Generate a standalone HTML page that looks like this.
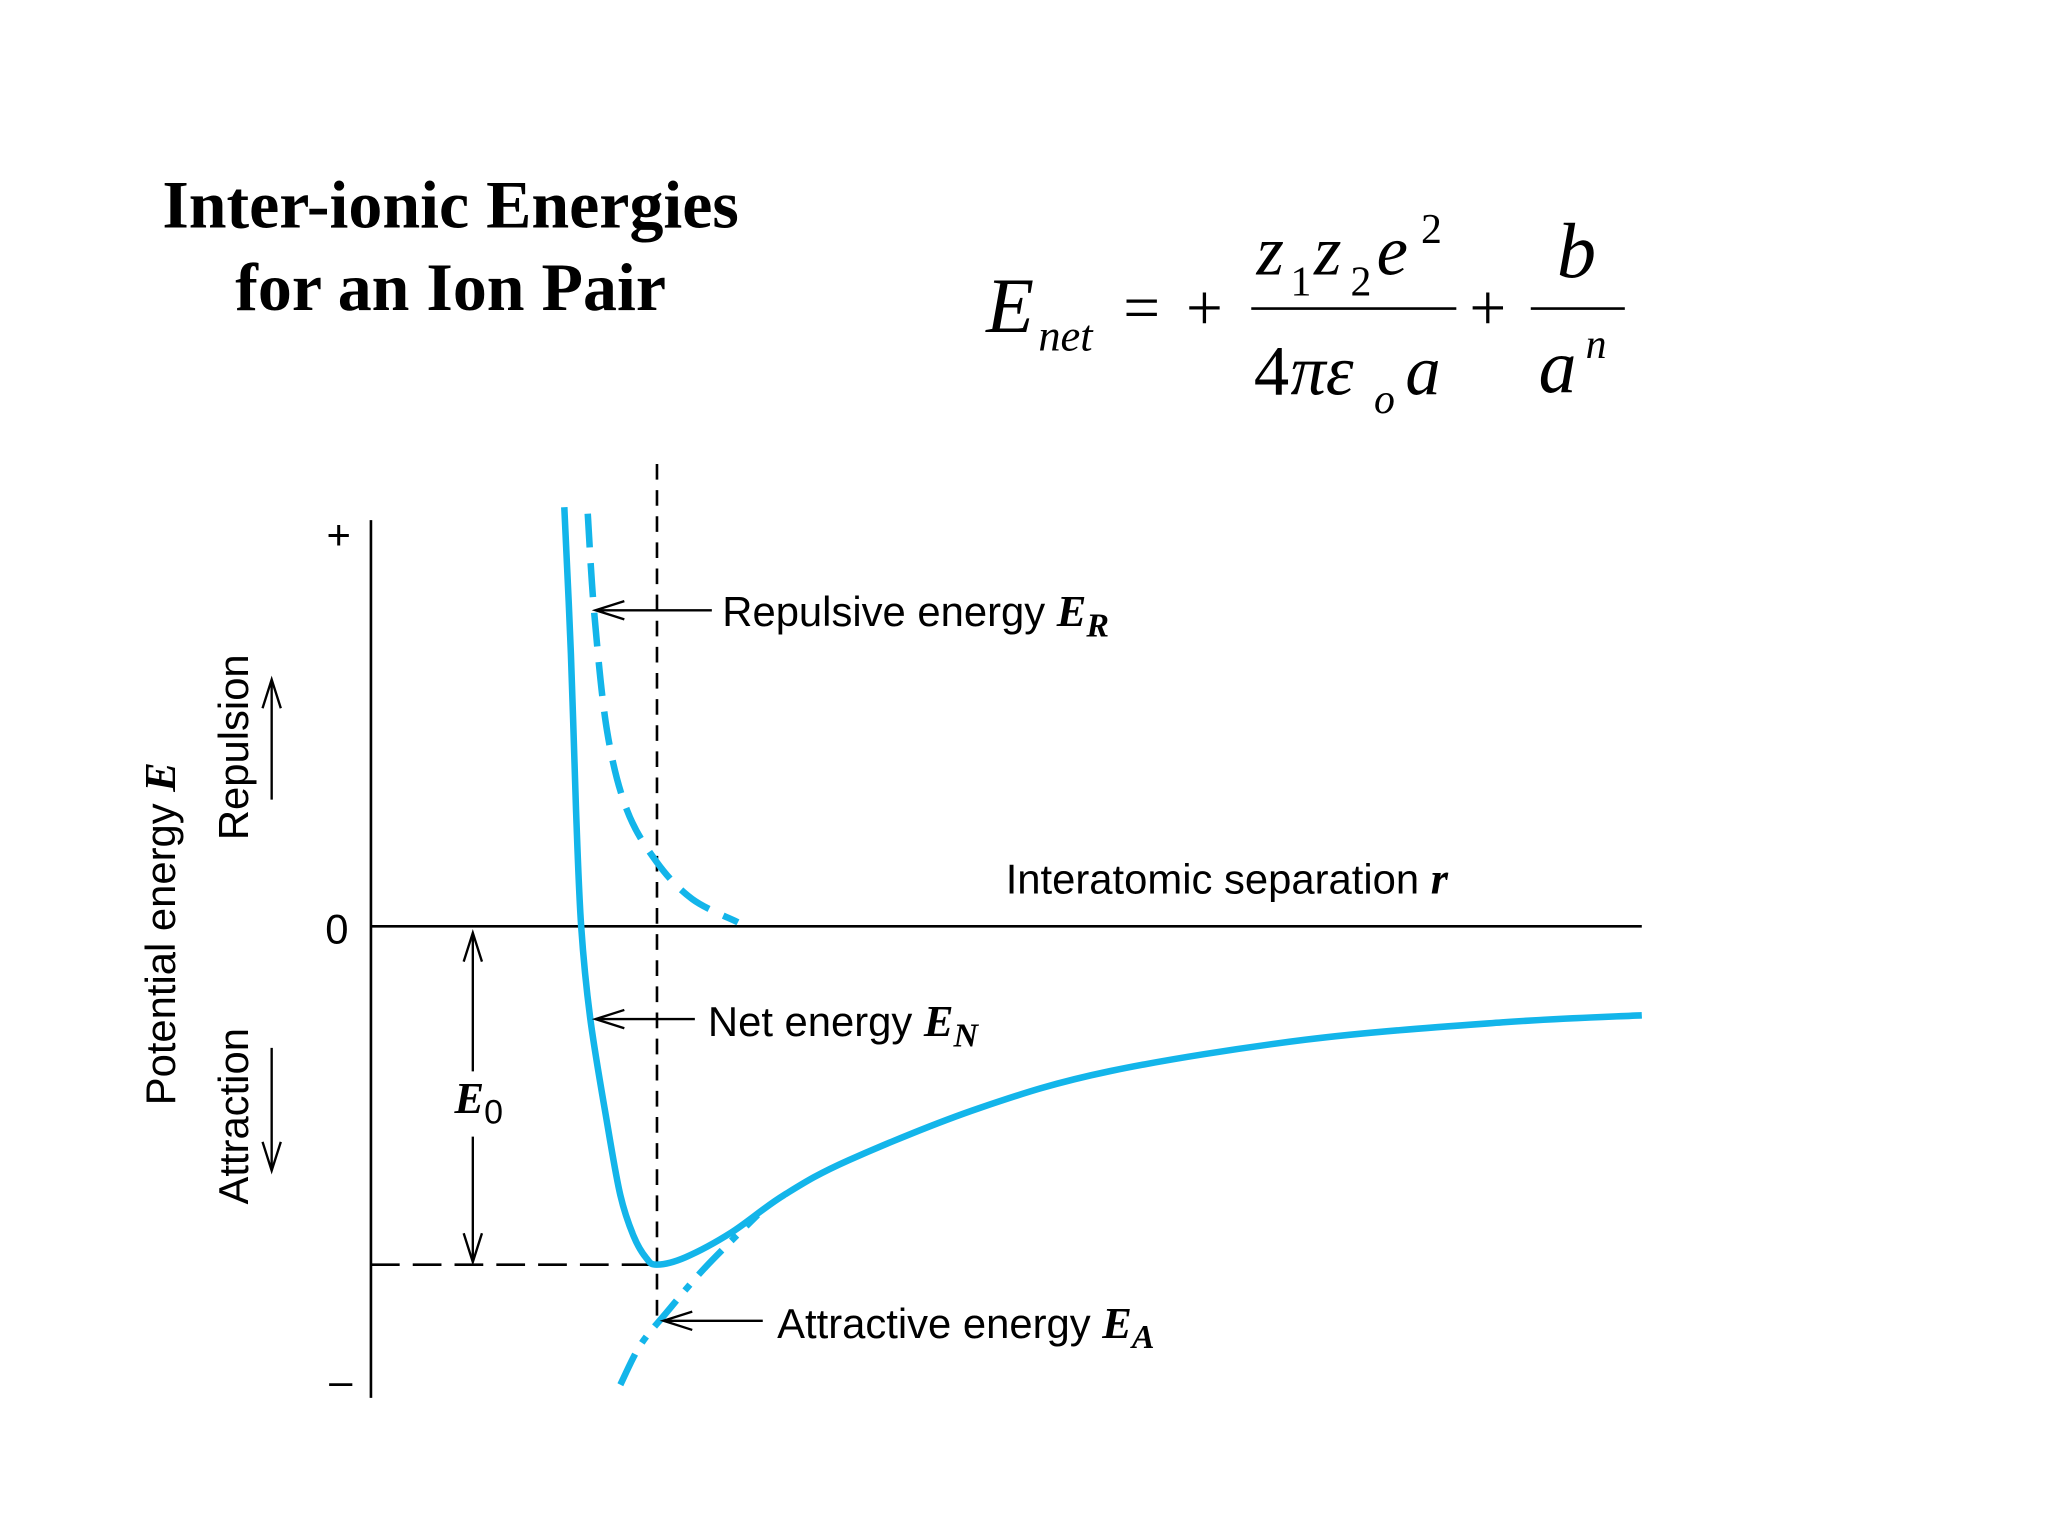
<!DOCTYPE html>
<html><head><meta charset="utf-8"><style>
html,body{margin:0;padding:0;background:#fff;}
svg{display:block;}
.sans{font-family:"Liberation Sans",sans-serif;}
.serif{font-family:"Liberation Serif",serif;}
</style></head><body>
<svg id="chart" width="2048" height="1534" viewBox="0 0 1568 1174" xmlns="http://www.w3.org/2000/svg">
<rect width="1568" height="1174" fill="#fff"/>
<g class="serif" font-weight="bold" font-size="52" text-anchor="middle" fill="#000">
<text x="345" y="174">Inter-ionic Energies</text>
<text x="345" y="237">for an Ion Pair</text>
</g>
<g class="serif" fill="#000">
<text x="755" y="254" font-size="60" font-style="italic">E</text>
<text x="795" y="268" font-size="34" font-style="italic">net</text>
<text x="860" y="252" font-size="50">=</text>
<text x="908" y="252" font-size="50">+</text>
<text x="962" y="210" font-size="54" font-style="italic">z</text>
<text x="988" y="226" font-size="32">1</text>
<text x="1006" y="210" font-size="54" font-style="italic">z</text>
<text x="1034" y="226" font-size="32">2</text>
<text x="1054" y="210" font-size="54" font-style="italic">e</text>
<text x="1088" y="186" font-size="32">2</text>
<line x1="958" y1="236" x2="1115" y2="236" stroke="#000" stroke-width="2"/>
<text x="960" y="302" font-size="54">4</text>
<text x="988" y="302" font-size="54" font-style="italic">πε</text>
<text x="1052" y="316" font-size="32" font-style="italic">o</text>
<text x="1076" y="302" font-size="54" font-style="italic">a</text>
<text x="1125" y="252" font-size="50">+</text>
<text x="1192" y="212" font-size="60" font-style="italic">b</text>
<line x1="1172" y1="236" x2="1244" y2="236" stroke="#000" stroke-width="2"/>
<text x="1178" y="300" font-size="58" font-style="italic">a</text>
<text x="1214" y="274" font-size="32" font-style="italic">n</text>
</g>
<g id="plot"></g>
</svg>
<script>
const netR=[0.676,0.699,0.717,0.735,0.767,0.826,0.872,0.918,0.963,1.0,1.100,1.260,1.443,1.671,2.128,2.584,3.269,3.954,4.443];
const netE=[1.239,0.807,0.344,0,-0.274,-0.583,-0.795,-0.915,-0.981,-1.0,-0.978,-0.905,-0.795,-0.691,-0.537,-0.428,-0.335,-0.284,-0.263];
const repR=[0.758,0.781,0.826,0.895,1.0,1.123,1.283];
const repE=[1.220,0.923,0.575,0.344,0.189,0.081,0.012];
const attR=[0.872,0.941,1.032,1.169,1.352];
const attE=[-1.355,-1.239,-1.143,-1.008,-0.853];
const r0=1.0, E0=-1.0;
const xs=r=>284+r*219;
const ys=e=>709-e*259;
const NS='http://www.w3.org/2000/svg';
const plot=document.getElementById('plot');
function mk(tag,attrs){const el=document.createElementNS(NS,tag);for(const k in attrs)el.setAttribute(k,attrs[k]);plot.appendChild(el);return el;}
function spline(R,E){const p=R.map((r,i)=>[xs(r),ys(E[i])]);let d='M'+p[0][0]+','+p[0][1];
for(let i=0;i<p.length-1;i++){const a=p[i-1]||p[i],b=p[i],c=p[i+1],e=p[i+2]||c;
d+=' C'+(b[0]+(c[0]-a[0])/6)+','+(b[1]+(c[1]-a[1])/6)+' '+(c[0]-(e[0]-b[0])/6)+','+(c[1]-(e[1]-b[1])/6)+' '+c[0]+','+c[1];}return d;}
let el;
el=mk('line',{x1:284,y1:398,x2:284,y2:1070,stroke:'#000','stroke-width':2});


el=mk('line',{x1:284,y1:709,x2:1257,y2:709,stroke:'#000','stroke-width':2});


el=mk('line',{x1:xs(r0),y1:355,x2:xs(r0),y2:1010,stroke:'#000','stroke-width':2,'stroke-dasharray':'12,8'});


el=mk('line',{x1:284,y1:ys(E0),x2:xs(r0),y2:ys(E0),stroke:'#000','stroke-width':2,'stroke-dasharray':'22,10'});


el=mk('path',{d:spline(repR,repE),fill:'none',stroke:'#13b5ea','stroke-width':5,'stroke-dasharray':'26,12'});


el=mk('path',{d:spline(attR,attE),fill:'none',stroke:'#13b5ea','stroke-width':5,'stroke-dasharray':'26,10,6,10'});


el=mk('path',{d:spline(netR,netE),fill:'none',stroke:'#13b5ea','stroke-width':5,'stroke-linejoin':'round'});


function arrow(x1,y,x2,name){const g=document.createElementNS(NS,'g');plot.appendChild(g);


g.innerHTML=`<line x1="${x1}" y1="${y}" x2="${x2}" y2="${y}" stroke="#000" stroke-width="1.8"/><path d="M${x2+22},${y-7} L${x2},${y} L${x2+22},${y+7}" fill="none" stroke="#000" stroke-width="1.8"/>`;}
arrow(545,467,456,'repulsive-pointer');
arrow(532,780,456,'net-pointer');
arrow(584,1011,508,'attractive-pointer');
const labels=document.createElementNS(NS,'g');plot.appendChild(labels);


labels.innerHTML=`
<g class="sans" font-size="32" fill="#000">
<text x="553" y="479">Repulsive energy <tspan class="serif" font-style="italic" font-weight="bold" font-size="34">E</tspan><tspan class="serif" font-style="italic" font-weight="bold" font-size="26" dy="8">R</tspan></text>
<text x="542" y="793">Net energy <tspan class="serif" font-style="italic" font-weight="bold" font-size="34">E</tspan><tspan class="serif" font-style="italic" font-weight="bold" font-size="26" dy="8">N</tspan></text>
<text x="595" y="1024">Attractive energy <tspan class="serif" font-style="italic" font-weight="bold" font-size="34">E</tspan><tspan class="serif" font-style="italic" font-weight="bold" font-size="26" dy="8">A</tspan></text>
<text x="770" y="684">Interatomic separation <tspan class="serif" font-style="italic" font-weight="bold" font-size="34">r</tspan></text>
<text x="249" y="722">0</text>
<text x="250" y="420">+</text>
<text x="252" y="1068">–</text>
<text x="348" y="852"><tspan class="serif" font-style="italic" font-weight="bold" font-size="34">E</tspan><tspan font-size="26" dy="8">0</tspan></text>
<text transform="translate(134,846) rotate(-90)">Potential energy <tspan class="serif" font-style="italic" font-weight="bold" font-size="34">E</tspan></text>
<text transform="translate(190,643) rotate(-90)">Repulsion</text>
<text transform="translate(190,922) rotate(-90)">Attraction</text>
</g>
<g stroke="#000" stroke-width="1.8" fill="none">
<line x1="362" y1="714" x2="362" y2="820"/><line x1="362" y1="870" x2="362" y2="966"/>
<path d="M355,736 L362,714 L369,736"/><path d="M355,944 L362,966 L369,944"/>
<line x1="208" y1="520" x2="208" y2="612"/><path d="M201,542 L208,520 L215,542"/>
<line x1="208" y1="802" x2="208" y2="896"/><path d="M201,874 L208,896 L215,874"/>
</g>`;
</script>
</body></html>
